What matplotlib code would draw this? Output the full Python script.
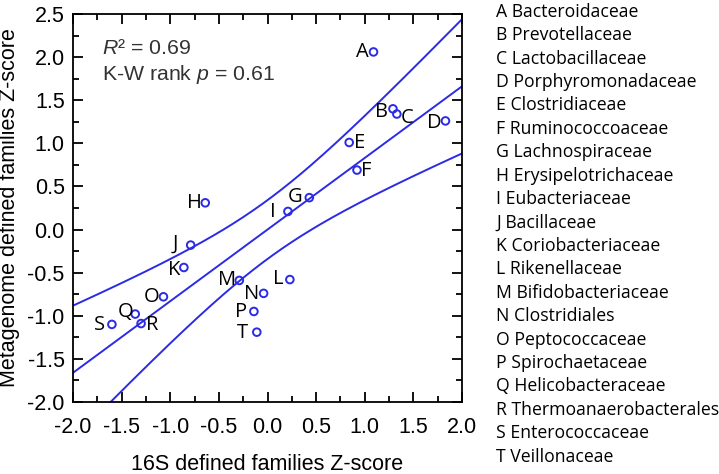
import numpy as np
import matplotlib
matplotlib.use('Agg')
import matplotlib.pyplot as plt
from matplotlib.ticker import MultipleLocator

plt.rcParams['mathtext.fontset'] = 'custom'
plt.rcParams['mathtext.it'] = 'Liberation Sans:italic'
plt.rcParams['mathtext.rm'] = 'Liberation Sans'

# family letters, names and z-scores (16S vs metagenome)
letters = list('ABCDEFGHIJKLMNOPQRST')
families = ['Bacteroidaceae', 'Prevotellaceae', 'Lactobacillaceae', 'Porphyromonadaceae',
            'Clostridiaceae', 'Ruminococcoaceae', 'Lachnospiraceae', 'Erysipelotrichaceae',
            'Eubacteriaceae', 'Bacillaceae', 'Coriobacteriaceae', 'Rikenellaceae',
            'Bifidobacteriaceae', 'Clostridiales', 'Peptococcaceae', 'Spirochaetaceae',
            'Helicobacteraceae', 'Thermoanaerobacterales', 'Enterococcaceae', 'Veillonaceae']
z_16s = [1.09, 1.29, 1.33, 1.83, 0.84, 0.92, 0.43, -0.64, 0.21, -0.79,
         -0.86, 0.23, -0.29, -0.04, -1.07, -0.14, -1.36, -1.30, -1.60, -0.11]
z_meta = [2.06, 1.40, 1.34, 1.26, 1.01, 0.69, 0.37, 0.31, 0.21, -0.18,
          -0.44, -0.58, -0.59, -0.74, -0.78, -0.95, -0.98, -1.09, -1.10, -1.19]
r_squared = 0.69
kw_p = 0.61

# label offsets (pixels) relative to each point
label_dx = [-11, -11, 10, -11, 10, 9, -14, -11, -15, -15,
            -10, -12, -12, -12, -12, -13, -10, 11, -12, -14]
label_dy = [0, -3, -4, -2, -1, -1, 1, 0, -1, 1,
            -3, 1, 0, -1, 0, -1, 2, -1, -1, -1]

blue = '#2b2be6'
axis_font = 'Liberation Sans'
list_font = 'Open Sans'

x = np.array(z_16s)
y = np.array(z_meta)
n = len(x)

# standardized regression (slope = r) with 95% Working-Hotelling band
slope = np.sqrt(r_squared)
s = np.sqrt((1 - r_squared) * (n - 1) / (n - 2))
sxx = n - 1.0
w = np.sqrt(2 * 3.555)  # F(0.95; 2, 18)
xs = np.linspace(-2, 2, 200)
fit = slope * xs
half = w * s * np.sqrt(1.0 / n + xs ** 2 / sxx)

fig = plt.figure(figsize=(7.19, 4.74), dpi=100)
ax = fig.add_axes([73 / 719, 1 - 402 / 474, 389 / 719, 388 / 474])

ax.plot(xs, fit, color=blue, lw=1.4)
ax.plot(xs, fit + half, color=blue, lw=1.4)
ax.plot(xs, fit - half, color=blue, lw=1.4)
ax.scatter(x, y, s=30, facecolors='none', edgecolors=blue, linewidths=1.4, zorder=3)

for i in range(n):
    ax.annotate(letters[i], (x[i], y[i]), xytext=(label_dx[i] * 0.72, label_dy[i] * 0.72),
                textcoords='offset points', ha='center', va='center',
                fontsize=14.5, family=list_font)

ax.set_xlim(-2, 2)
ax.set_ylim(-2, 2.5)
ax.xaxis.set_minor_locator(MultipleLocator(0.25))
ax.yaxis.set_minor_locator(MultipleLocator(0.25))
ax.tick_params(which='both', direction='in', top=True, right=True, width=1.3)
ax.tick_params(which='major', length=7.5)
ax.tick_params(which='minor', length=4.5)
ax.tick_params(axis='x', which='major', pad=11)
ax.tick_params(axis='y', which='major', pad=6)
xt = np.arange(-2, 2.01, 0.5)
yt = np.arange(-2, 2.51, 0.5)
ax.set_xticks(xt)
ax.set_xticklabels(['%.1f' % v for v in xt], family=axis_font, fontsize=15.5)
ax.set_yticks(yt)
ax.set_yticklabels(['%.1f' % v for v in yt], family=axis_font, fontsize=15.5)
for sp in ax.spines.values():
    sp.set_linewidth(1.3)

ax.set_xlabel('16S defined families Z-score', family=axis_font, fontsize=15.5, labelpad=11)
ax.set_ylabel('Metagenome defined families Z-score', family=axis_font, fontsize=15.5, labelpad=5)

ax.text(0.074, 0.912, r'$R$' + '\u00b2 = %.2f' % r_squared, transform=ax.transAxes,
        family=axis_font, fontsize=15.3, va='center', color='#333333')
ax.text(0.074, 0.843, r'K-W rank $p$ = %.2f' % kw_p, transform=ax.transAxes,
        family=axis_font, fontsize=15.3, va='center', color='#333333')

for i in range(n):
    fig.text(496 / 719, 1 - (16.7 + i * 23.42) / 474, letters[i] + ' ' + families[i],
             family=list_font, fontsize=12.7, va='baseline', ha='left')

fig.savefig('out.png', dpi=100)
